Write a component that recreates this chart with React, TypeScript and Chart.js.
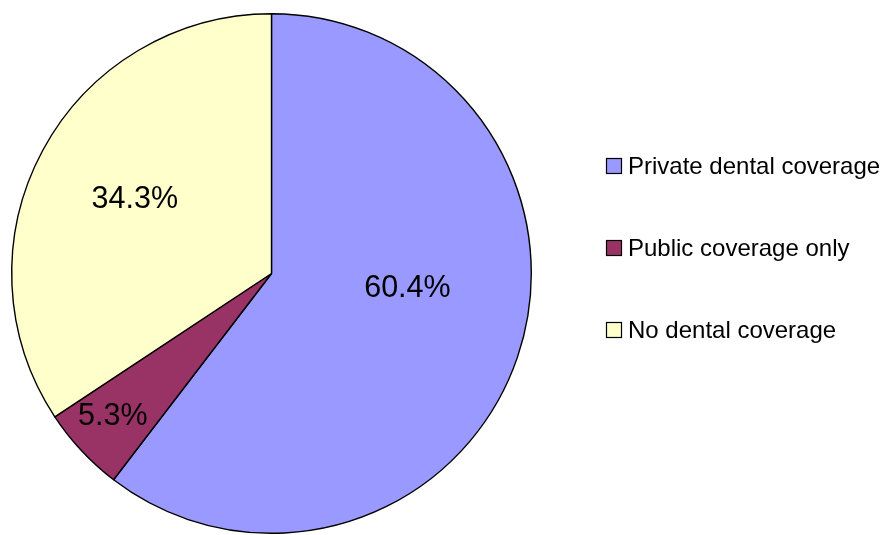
import React, { useEffect, useRef } from "react";
import { Chart, registerables } from "chart.js";

Chart.register(...registerables);

const categories = ["Private dental coverage", "Public coverage only", "No dental coverage"];
const shares = [60.4, 5.3, 34.3];
const colors = ["#9999FF", "#993366", "#FFFFCC"];

// label placement (style): fraction of radius, angle nudge in degrees
const labelRadiusFrac = [0.526, 0.82, 0.6];
const labelAngleNudge = [-12.8, 1.2, 0.5];

const FONT = "'Liberation Sans', Arial, sans-serif";

const sliceLabels = {
  id: "sliceLabels",
  afterDatasetsDraw(chart: any) {
    const ctx = chart.ctx;
    const meta = chart.getDatasetMeta(0);
    ctx.save();
    ctx.font = `30.5px ${FONT}`;
    ctx.fillStyle = "#000";
    ctx.textAlign = "center";
    ctx.textBaseline = "middle";
    meta.data.forEach((arc: any, i: number) => {
      const { x, y, startAngle, endAngle, outerRadius } = arc.getProps(
        ["x", "y", "startAngle", "endAngle", "outerRadius"],
        true
      );
      const mid = (startAngle + endAngle) / 2 + (labelAngleNudge[i] * Math.PI) / 180;
      const r = outerRadius * labelRadiusFrac[i];
      ctx.fillText(shares[i].toFixed(1) + "%", x + Math.cos(mid) * r, y + Math.sin(mid) * r + 1);
    });
    ctx.restore();
  },
};

const sideLegend = {
  id: "sideLegend",
  afterDraw(chart: any) {
    const ctx = chart.ctx;
    const boxX = 606.5;
    const firstTop = 158.5;
    const step = 82;
    ctx.save();
    ctx.font = `24px ${FONT}`;
    ctx.textAlign = "left";
    ctx.textBaseline = "alphabetic";
    categories.forEach((name, i) => {
      const top = firstTop + i * step;
      ctx.fillStyle = colors[i];
      ctx.fillRect(boxX, top, 15, 15);
      ctx.strokeStyle = "#000";
      ctx.lineWidth = 1.2;
      ctx.strokeRect(boxX, top, 15, 15);
      ctx.fillStyle = "#000";
      ctx.fillText(name, 628, top + 15);
    });
    ctx.restore();
  },
};

export default function App() {
  const ref = useRef<HTMLCanvasElement | null>(null);
  useEffect(() => {
    if (!ref.current) return;
    const chart = new Chart(ref.current, {
      type: "pie",
      data: {
        labels: categories,
        datasets: [
          {
            data: shares,
            backgroundColor: colors,
            borderColor: "#000",
            borderWidth: 1.4,
          },
        ],
      },
      options: {
        responsive: false,
        animation: false,
        layout: { padding: { top: 13, bottom: 1, left: 11, right: 352 } },
        plugins: {
          legend: { display: false },
          tooltip: { enabled: false },
        },
      },
      plugins: [sliceLabels, sideLegend],
    });
    return () => chart.destroy();
  }, []);
  return (
    <div style={{ position: "fixed", left: 0, top: 0, width: 884, height: 535, background: "#fff" }}>
      <canvas ref={ref} width={884} height={535} style={{ width: 884, height: 535, display: "block" }} />
    </div>
  );
}
